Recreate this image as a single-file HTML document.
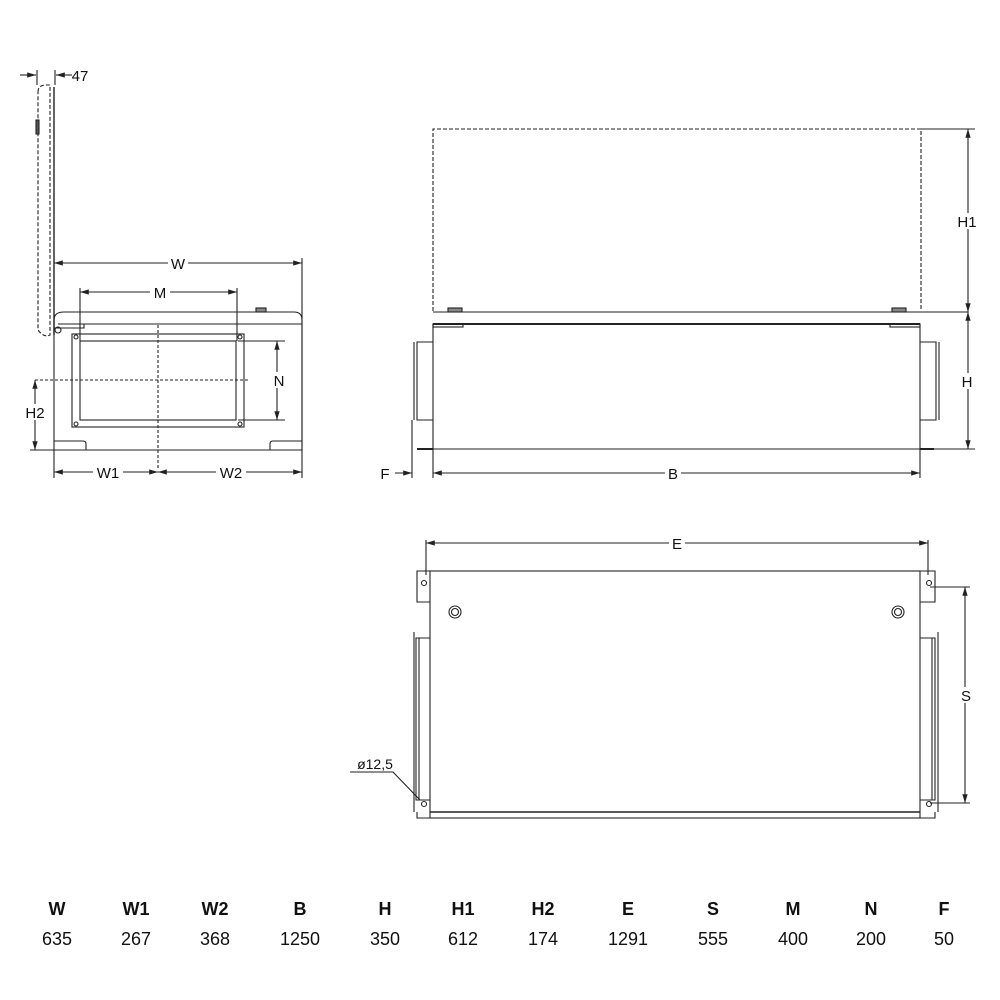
<!DOCTYPE html>
<html><head><meta charset="utf-8"><style>
html,body{margin:0;padding:0;background:#fff;width:1000px;height:1000px;overflow:hidden}
svg{display:block}
text{font-family:"Liberation Sans",Arial,sans-serif;fill:#111}
</style></head><body>
<svg width="1000" height="1000" viewBox="0 0 1000 1000" xmlns="http://www.w3.org/2000/svg">
<defs>
<marker id="a" viewBox="0 0 10 10" refX="10" refY="5" markerWidth="8" markerHeight="8" orient="auto-start-reverse"><path d="M0,2 L10,5 L0,8 z" fill="#222"/></marker>
</defs>
<g stroke="#222" stroke-width="1.1" fill="none">
<!-- SIDE VIEW -->
<path d="M54,87 V335" stroke-width="1.4"/>
<path d="M38,92 Q38,85 46,85 H50 V335 Q44,338 38,330 Z" stroke-dasharray="4,2"/>
<rect x="36" y="120" width="3" height="14" fill="#555"/>
<path d="M20,75 H36" marker-end="url(#a)"/>
<path d="M72,75 H56" marker-end="url(#a)"/>
<path d="M37,70 V85 M55,70 V85"/>
<path d="M54,263 H302" marker-start="url(#a)" marker-end="url(#a)"/>
<path d="M302,258 V450"/>
<path d="M54,450 V320 Q54,312 64,312 H294 Q302,312 302,320 V450 H54"/>
<path d="M58,324 H302"/>
<path d="M54,328 H84 V324"/>
<rect x="256" y="308" width="10" height="4" fill="#888"/>
<circle cx="58" cy="330" r="3"/>
<rect x="72" y="334" width="172" height="93"/>
<rect x="80" y="341" width="156" height="79"/>
<circle cx="76" cy="337" r="2"/><circle cx="240" cy="337" r="2"/><circle cx="76" cy="424" r="2"/><circle cx="240" cy="424" r="2"/>
<path d="M80,292 H237" marker-start="url(#a)" marker-end="url(#a)"/>
<path d="M80,288 V341 M237,288 V341"/>
<path d="M238,341 H285 M238,420 H285"/>
<path d="M277,341 V420" marker-start="url(#a)" marker-end="url(#a)"/>
<path d="M35,380 H250" stroke-dasharray="3,2"/>
<path d="M158,325 V470" stroke-dasharray="3,2"/>
<path d="M35,380 V450" marker-start="url(#a)" marker-end="url(#a)"/>
<path d="M30,450 H54"/>
<path d="M54,441 H83 Q86,441 86,444 V450 M302,441 H273 Q270,441 270,444 V450"/>
<path d="M54,450 V478 M302,450 V478"/>
<path d="M54,472 H158" marker-start="url(#a)" marker-end="url(#a)"/>
<path d="M158,472 H302" marker-start="url(#a)" marker-end="url(#a)"/>
<!-- FRONT VIEW -->
<path d="M433,311 V129 H921 V311" stroke-dasharray="4,2"/>
<path d="M433,312 H968"/>
<rect x="448" y="308" width="14" height="4" fill="#888"/>
<rect x="892" y="308" width="14" height="4" fill="#888"/>
<path d="M433,324 H920" stroke-width="2"/>
<path d="M433,324 V449 H920 V324"/>
<rect x="433" y="324" width="30" height="3"/><rect x="890" y="324" width="30" height="3"/>
<path d="M433,342 H417 V420 H433 M414,342 V420"/>
<path d="M920,342 H936 V420 H920 M939,342 V420"/>
<path d="M417,449 H433 M920,449 H934" stroke-width="2"/>
<path d="M920,449 H975"/>
<path d="M968,129 V312" marker-start="url(#a)" marker-end="url(#a)"/>
<path d="M968,312 V449" marker-start="url(#a)" marker-end="url(#a)"/>
<path d="M921,129 H975"/>
<path d="M433,449 V478 M920,449 V478 M412,420 V478"/>
<path d="M433,473 H920" marker-start="url(#a)" marker-end="url(#a)"/>
<path d="M395,473 H412" marker-end="url(#a)"/>
<!-- TOP VIEW -->
<path d="M426,540 V575 M928,540 V575"/>
<path d="M426,543 H928" marker-start="url(#a)" marker-end="url(#a)"/>
<rect x="430" y="571" width="490" height="247"/>
<path d="M430,571 H417 V602 H430 M920,571 H935 V602 H920"/>
<circle cx="424" cy="583" r="2.5"/><circle cx="929" cy="583" r="2.5"/>
<circle cx="424" cy="804" r="2.5"/><circle cx="929" cy="804" r="2.5"/>
<circle cx="455" cy="612" r="6"/><circle cx="455" cy="612" r="3.5"/>
<circle cx="898" cy="612" r="6"/><circle cx="898" cy="612" r="3.5"/>
<path d="M430,638 H416 V800 H430 M419,638 V800 M414,632 V812"/>
<path d="M920,638 H935 V800 H920 M932,638 V800 M938,632 V812"/>
<path d="M417,812 V818 H430 M935,812 V818 H920"/>
<path d="M430,812 H920" stroke-width="1.5"/>
<path d="M930,587 H970 M930,803 H970"/>
<path d="M965,587 V803" marker-start="url(#a)" marker-end="url(#a)"/>
<path d="M350,772 H393 L420,800" />
</g>
<g font-size="15" text-anchor="middle">
<text x="80" y="81">47</text>
<rect x="168" y="255" width="20" height="16" fill="#fff"/><text x="178" y="269">W</text>
<rect x="150" y="284" width="20" height="16" fill="#fff"/><text x="160" y="298">M</text>
<rect x="271" y="372" width="16" height="16" fill="#fff"/><text x="279" y="386">N</text>
<rect x="24" y="404" width="22" height="16" fill="#fff"/><text x="35" y="418">H2</text>
<rect x="93" y="464" width="30" height="16" fill="#fff"/><text x="108" y="478">W1</text>
<rect x="216" y="464" width="30" height="16" fill="#fff"/><text x="231" y="478">W2</text>
<rect x="956" y="213" width="24" height="16" fill="#fff"/><text x="967" y="227">H1</text>
<rect x="958" y="373" width="18" height="16" fill="#fff"/><text x="967" y="387">H</text>
<rect x="665" y="465" width="16" height="16" fill="#fff"/><text x="673" y="479">B</text>
<text x="385" y="479">F</text>
<rect x="669" y="535" width="16" height="16" fill="#fff"/><text x="677" y="549">E</text>
<rect x="958" y="687" width="16" height="16" fill="#fff"/><text x="966" y="701">S</text>
<text x="375" y="769" font-size="14">ø12,5</text>
</g>
<g font-size="18" text-anchor="middle">
<g font-weight="bold">
<text x="57" y="915">W</text><text x="136" y="915">W1</text><text x="215" y="915">W2</text><text x="300" y="915">B</text><text x="385" y="915">H</text><text x="463" y="915">H1</text><text x="543" y="915">H2</text><text x="628" y="915">E</text><text x="713" y="915">S</text><text x="793" y="915">M</text><text x="871" y="915">N</text><text x="944" y="915">F</text>
</g>
<text x="57" y="945">635</text><text x="136" y="945">267</text><text x="215" y="945">368</text><text x="300" y="945">1250</text><text x="385" y="945">350</text><text x="463" y="945">612</text><text x="543" y="945">174</text><text x="628" y="945">1291</text><text x="713" y="945">555</text><text x="793" y="945">400</text><text x="871" y="945">200</text><text x="944" y="945">50</text>
</g>
</svg>
</body></html>
